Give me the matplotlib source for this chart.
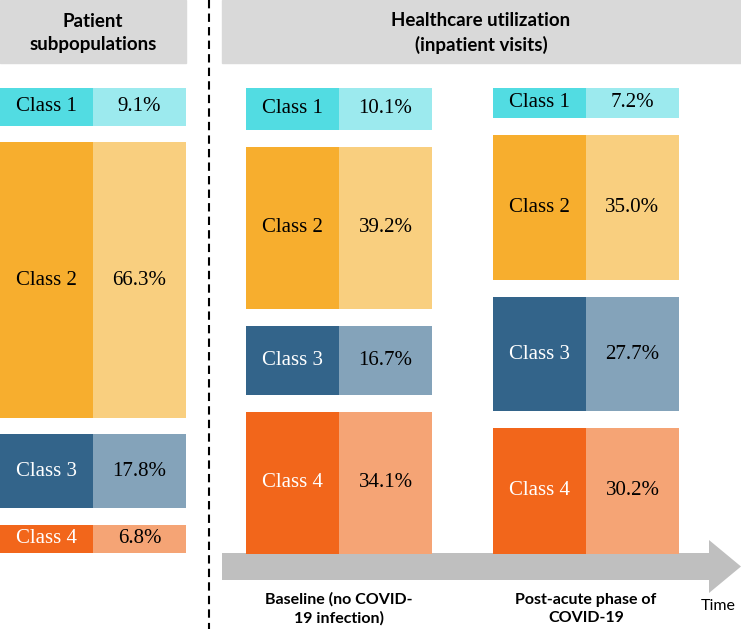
import matplotlib.pyplot as plt
from matplotlib.patches import Rectangle

# data
classes = ["Class 1", "Class 2", "Class 3", "Class 4"]
subpop_pct = [9.1, 66.3, 17.8, 6.8]
baseline_pct = [10.1, 39.2, 16.7, 34.1]
postacute_pct = [7.2, 35.0, 27.7, 30.2]

dark_colors = ["#52DCE2", "#F7AE2E", "#33648A", "#F2661B"]
light_colors = ["#9CEAEE", "#F9CF7F", "#84A3BA", "#F5A475"]
label_colors = ["black", "black", "white", "white"]

header_left = "Patient\nsubpopulations"
header_right = "Healthcare utilization\n(inpatient visits)"
phase_labels = ["Baseline (no COVID-\n19 infection)", "Post-acute phase of\nCOVID-19"]

W, H = 741, 629
PX = 4.15       # pixels per percent
GAP = 16.7
TOP = 88
HALF = 93

fig = plt.figure(figsize=(W / 100, H / 100), dpi=100)
ax = fig.add_axes([0, 0, 1, 1])
ax.set_xlim(0, W)
ax.set_ylim(H, 0)
ax.axis("off")

serif = "Liberation Serif"
sans = "Lato"


def draw_column(x0, values):
    y = TOP
    for i, v in enumerate(values):
        h = v * PX
        ax.bar(x0, h, width=HALF, bottom=y, align="edge", color=dark_colors[i])
        ax.bar(x0 + HALF, h, width=HALF, bottom=y, align="edge", color=light_colors[i])
        ax.text(x0 + HALF / 2, y + h / 2, classes[i], ha="center", va="center",
                fontsize=15, family=serif, color=label_colors[i])
        ax.text(x0 + HALF * 1.5, y + h / 2, f"{v:.1f}%", ha="center", va="center",
                fontsize=15, family=serif, color="black")
        y += h + GAP


# headers
ax.add_patch(Rectangle((0, 0), 186, 63, color="#D9D9D9"))
ax.add_patch(Rectangle((222, 0), 519, 63, color="#D9D9D9"))
ax.text(93, 33, header_left, ha="center", va="center", fontsize=13.5,
        family=sans, weight="bold", linespacing=1.4)
ax.text(481, 33, header_right, ha="center", va="center", fontsize=13.5,
        family=sans, weight="bold", linespacing=1.4)

# divider
ax.plot([209, 209], [0, H], color="black", lw=1.5, ls=(0, (4, 2.5)))

# time arrow
ax.fill([222, 709, 709, 741, 709, 709, 222],
        [553, 553, 540, 566.5, 593, 580, 580], color="#BFBFBF", lw=0)

draw_column(0, subpop_pct)
draw_column(246, baseline_pct)
draw_column(493, postacute_pct)

ax.text(339, 609, phase_labels[0], ha="center", va="center", fontsize=11.5,
        family=sans, weight="bold", linespacing=1.45)
ax.text(586, 609, phase_labels[1], ha="center", va="center", fontsize=11.5,
        family=sans, weight="bold", linespacing=1.45)
ax.text(718, 606, "Time", ha="center", va="center", fontsize=11.5, family=sans)

fig.savefig("out.png", dpi=100)
plt.close(fig)
